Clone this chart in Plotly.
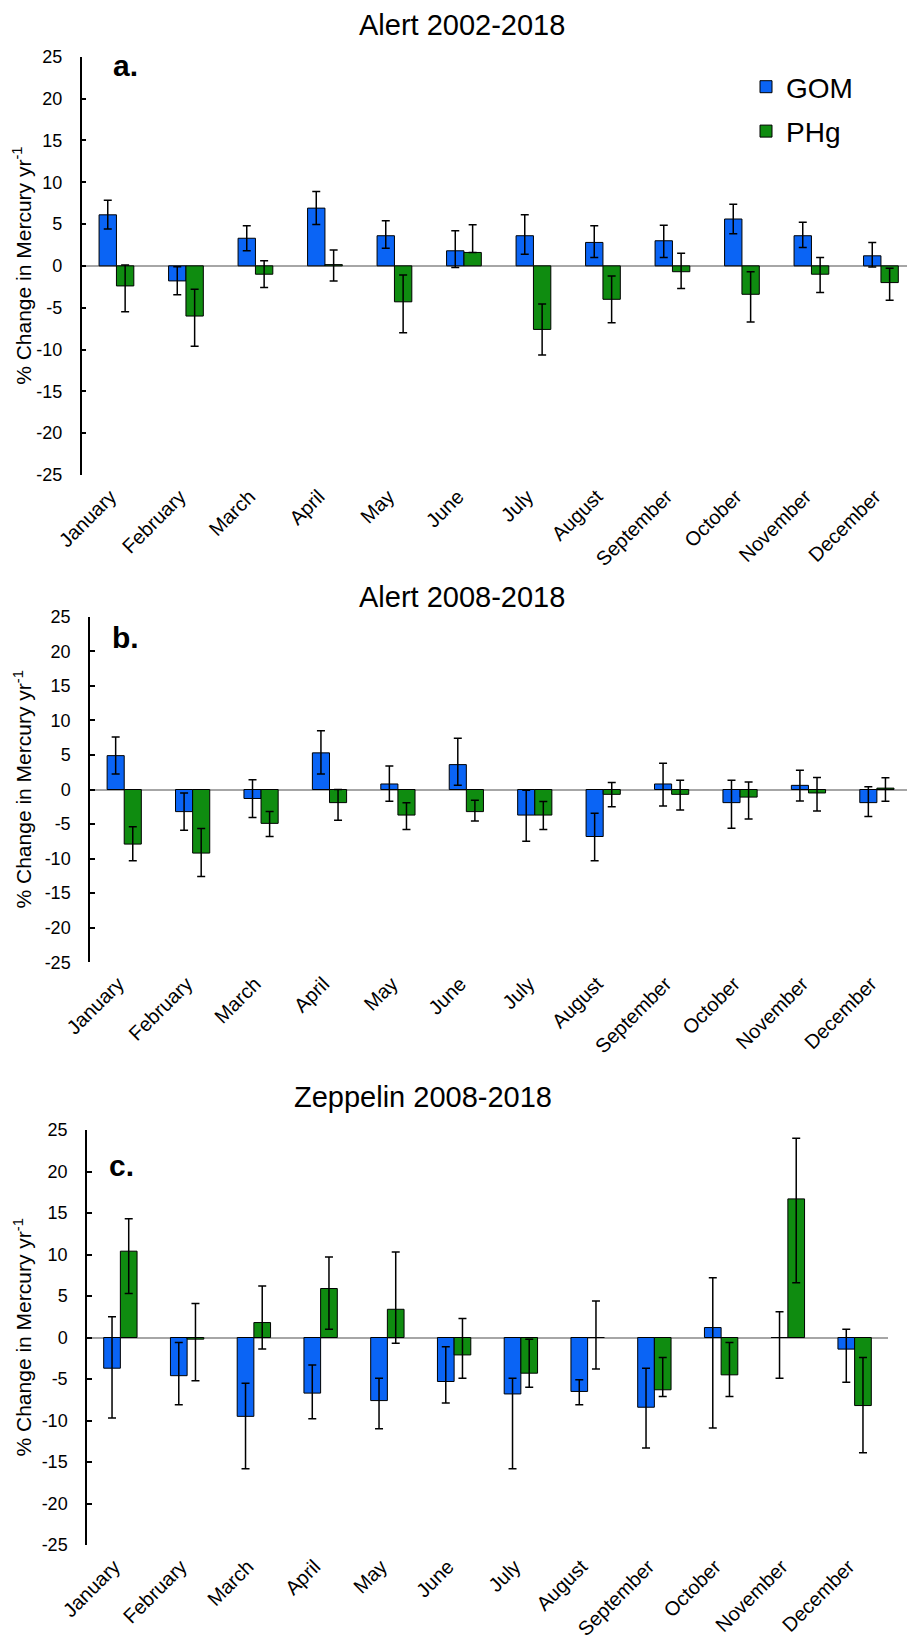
import plotly.graph_objects as go

months = ["January", "February", "March", "April", "May", "June", "July",
          "August", "September", "October", "November", "December"]
y_tickvals = [25, 20, 15, 10, 5, 0, -5, -10, -15, -20, -25]
y_ticktext = ["25", "20", "15", "10", "5", "0", "-5", "-10", "-15", "-20", "-25"]

# Panel a: Alert 2002-2018
a_gom = [6.1, -1.8, 3.3, 6.9, 3.6, 1.8, 3.6, 2.8, 3.0, 5.6, 3.6, 1.2]
a_gom_plus = [1.75, 1.7, 1.5, 2.0, 1.8, 2.4, 2.5, 2.0, 1.85, 1.75, 1.6, 1.6]
a_gom_minus = [1.7, 1.65, 1.5, 1.95, 1.5, 2.0, 2.2, 1.8, 2.0, 1.75, 1.4, 1.35]
a_phg = [-2.4, -6.0, -1.0, 0.15, -4.3, 1.6, -7.6, -4.0, -0.7, -3.4, -1.0, -2.0]
a_phg_plus = [2.5, 3.2, 1.6, 1.75, 3.2, 3.3, 3.05, 2.8, 2.2, 2.7, 2.0, 1.7]
a_phg_minus = [3.1, 3.6, 1.6, 1.95, 3.7, 0.0, 3.05, 2.8, 2.0, 3.3, 2.2, 2.1]

# Panel b: Alert 2008-2018
b_gom = [4.9, -3.2, -1.3, 5.3, 0.8, 3.6, -3.7, -6.8, 0.8, -1.9, 0.6, -1.9]
b_gom_plus = [2.7, 2.7, 2.7, 3.2, 2.6, 3.8, 3.6, 3.35, 3.0, 3.25, 2.2, 2.3]
b_gom_minus = [2.65, 2.7, 2.75, 3.05, 2.5, 3.0, 3.8, 3.5, 3.2, 3.7, 2.25, 2.0]
b_phg = [-7.9, -9.2, -4.9, -1.9, -3.7, -3.2, -3.7, -0.7, -0.7, -1.1, -0.5, 0.2]
b_phg_plus = [2.5, 3.55, 1.7, 1.9, 1.8, 1.65, 1.95, 1.7, 2.05, 2.2, 2.25, 1.5]
b_phg_minus = [2.4, 3.4, 1.9, 2.55, 2.1, 1.35, 2.1, 1.8, 2.25, 3.15, 2.6, 1.9]

# Panel c: Zeppelin 2008-2018
c_gom = [-3.7, -4.6, -9.5, -6.7, -7.6, -5.3, -6.8, -6.5, -8.4, 1.2, 0.0, -1.4]
c_gom_plus = [6.2, 4.0, 4.0, 3.4, 2.7, 4.2, 1.9, 1.4, 4.7, 6.0, 3.1, 2.4]
c_gom_minus = [6.0, 3.5, 6.3, 3.1, 3.4, 2.6, 9.0, 1.6, 4.9, 12.1, 4.9, 4.0]
c_phg = [10.4, -0.2, 1.8, 5.9, 3.4, -2.1, -4.3, 0.0, -6.3, -4.5, 16.7, -8.2]
c_phg_plus = [3.9, 4.3, 4.4, 3.8, 6.9, 4.4, 4.1, 4.4, 3.9, 3.9, 7.3, 5.8]
c_phg_minus = [5.1, 5.0, 3.2, 4.9, 4.1, 2.8, 1.7, 3.8, 0.8, 2.6, 10.1, 5.7]

titles = ["Alert 2002-2018", "Alert 2008-2018", "Zeppelin 2008-2018"]
panel_letters = ["a.", "b.", "c."]
ytitle = "% Change in Mercury yr<sup>-1</sup>"

GOM_COLOR = "#0A64F5"
PHG_COLOR = "#0F8C10"
FONT = "Arial, Liberation Sans, sans-serif"
W, H = 907, 1641

panels = [
    (a_gom, a_gom_plus, a_gom_minus, a_phg, a_phg_plus, a_phg_minus),
    (b_gom, b_gom_plus, b_gom_minus, b_phg, b_phg_plus, b_phg_minus),
    (c_gom, c_gom_plus, c_gom_minus, c_phg, c_phg_plus, c_phg_minus),
]

# layout geometry in pixels
ydom_px = [(56.7, 475.0), (616.7, 962.3), (1130.0, 1545.0)]
xdom_px = [(81.7, 907.0), (90.0, 907.0), (87.0, 888.0)]
xrange_max = [11.375, 11.44, 11.5]
title_pos = [(462, 25), (462, 597), (423, 1097)]
letter_pos = [(125, 66), (125, 637), (122, 1165)]

fig = go.Figure()

for i, (g, gp, gm, p, pp, pm) in enumerate(panels):
    xa = "x" if i == 0 else f"x{i+1}"
    ya = "y" if i == 0 else f"y{i+1}"
    err_style = dict(type="data", symmetric=False, color="black", thickness=1.5, width=4)
    fig.add_trace(go.Bar(
        x=months, y=g, name="GOM", xaxis=xa, yaxis=ya,
        marker=dict(color=GOM_COLOR, line=dict(color="black", width=1)),
        error_y=dict(array=gp, arrayminus=gm, **err_style),
        showlegend=(i == 0), legendgroup="gom",
    ))
    fig.add_trace(go.Bar(
        x=months, y=p, name="PHg", xaxis=xa, yaxis=ya,
        marker=dict(color=PHG_COLOR, line=dict(color="black", width=1)),
        error_y=dict(array=pp, arrayminus=pm, **err_style),
        showlegend=(i == 0), legendgroup="phg",
    ))

layout = dict(
    template="none",
    width=W, height=H,
    margin=dict(l=0, r=0, t=0, b=0, pad=0, autoexpand=False),
    paper_bgcolor="white", plot_bgcolor="white",
    barmode="group", bargap=0.5, bargroupgap=0,
    font=dict(family=FONT, color="black"),
    legend=dict(x=746 / W, y=1 - 62 / H, xanchor="left", yanchor="top",
                font=dict(size=28, family=FONT), bgcolor="rgba(0,0,0,0)",
                borderwidth=0, tracegroupgap=5, traceorder="grouped"),
    annotations=[],
)

for i in range(3):
    xk = "xaxis" if i == 0 else f"xaxis{i+1}"
    yk = "yaxis" if i == 0 else f"yaxis{i+1}"
    ya = "y" if i == 0 else f"y{i+1}"
    xa = "x" if i == 0 else f"x{i+1}"
    y0, y1 = ydom_px[i]
    x0, x1 = xdom_px[i]
    layout[xk] = dict(
        domain=[x0 / W, x1 / W], anchor=ya, range=[-0.5, xrange_max[i]],
        automargin=False,
        showline=False, showgrid=False, zeroline=False, ticks="",
        tickangle=-45, tickfont=dict(size=20, family=FONT, color="black"),
        ticklabelstandoff=5, ticklabelshift=-6, fixedrange=True,
    )
    layout[yk] = dict(
        domain=[1 - y1 / H, 1 - y0 / H], anchor=xa, range=[-25, 25],
        automargin=False,
        tickmode="array", tickvals=y_tickvals, ticktext=y_ticktext,
        showline=True, linecolor="black", linewidth=1.5,
        ticks="inside", ticklen=5, tickwidth=1.5, tickcolor="black",
        showgrid=False, zeroline=True, zerolinecolor="#A6A6A6", zerolinewidth=2,
        tickfont=dict(size=18, family=FONT, color="black"),
        ticklabelstandoff=14, fixedrange=True,
    )
    tx, ty = title_pos[i]
    layout["annotations"].append(dict(
        text=titles[i], x=tx / W, y=1 - ty / H, xref="paper", yref="paper",
        showarrow=False, xanchor="center", yanchor="middle",
        font=dict(size=29, family=FONT, color="black"),
    ))
    lx, ly = letter_pos[i]
    layout["annotations"].append(dict(
        text=f"<b>{panel_letters[i]}</b>", x=lx / W, y=1 - ly / H,
        xref="paper", yref="paper", showarrow=False,
        xanchor="center", yanchor="middle",
        font=dict(size=30, family=FONT, color="black"),
    ))
    layout["annotations"].append(dict(
        text=ytitle, x=22 / W, y=1 - (y0 + y1) / 2 / H,
        xref="paper", yref="paper", showarrow=False, textangle=-90,
        xanchor="center", yanchor="middle",
        font=dict(size=21, family=FONT, color="black"),
    ))

fig.update_layout(**layout)
fig.write_html("out.html",
               config={"displayModeBar": False},
               post_script="document.body.style.margin='0px';document.body.style.padding='0px';")
